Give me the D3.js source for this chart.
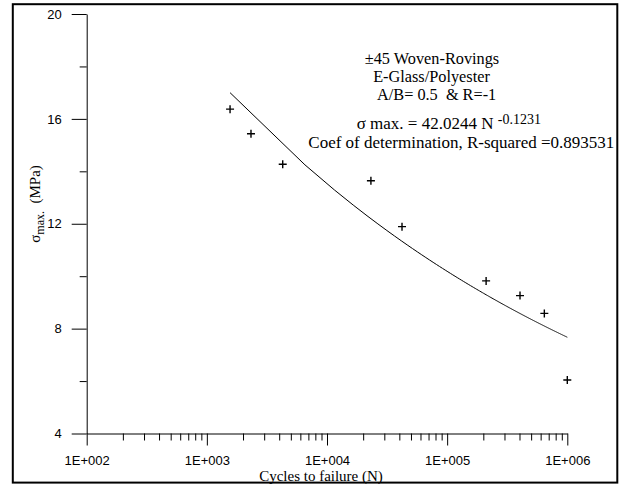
<!DOCTYPE html>
<html>
<head>
<meta charset="utf-8">
<script src="https://cdn.jsdelivr.net/npm/d3@7"></script>
<style>
  html, body { margin: 0; padding: 0; background: #fff; }
  svg { display: block; }
  .tick text { font-family: "Liberation Sans", Arial, sans-serif; font-size: 13px; fill: #000; }
  .tick line, .domain { stroke: #000; stroke-width: 1; }
  .serif { font-family: "Liberation Serif", "Times New Roman", serif; fill: #000; }
</style>
</head>
<body>
<svg id="chart" width="624" height="484"></svg>
<script>
// Fatigue data: cycles to failure and maximum stress (MPa)
const cyclesN   = [1560, 2330, 4280, 23200, 42100, 211000, 404000, 644000, 1000000];
const sigmaMax  = [16.37, 15.43, 14.27, 13.64, 11.89, 9.82, 9.26, 8.58, 6.04];

// Power-law fit  sigma = A * N^B
const fitA = 42.0244;
const fitB = -0.1231;
const rSquared = 0.893531;

// Axis ticks
const xMajorTicks = [1e2, 1e3, 1e4, 1e5, 1e6];
const xTickLabels = ["1E+002", "1E+003", "1E+004", "1E+005", "1E+006"];
const yMajorTicks = [4, 8, 12, 16, 20];
const yMinorTicks = [6, 10, 14, 18];

const svg = d3.select("#chart");

const x = d3.scaleLog().domain([1e2, 1e6]).range([86.7, 567.3]);
const y = d3.scaleLinear().domain([4, 20]).range([433.5, 14]);

// Outer frame
svg.append("rect")
  .attr("x", 12.8).attr("y", 4.2)
  .attr("width", 604.5).attr("height", 478.4)
  .attr("fill", "none").attr("stroke", "#000").attr("stroke-width", 2);

// Minor x ticks (2..9 within each decade)
const xMinorTicks = [];
for (let d = 2; d < 6; d++) for (let m = 2; m <= 9; m++) xMinorTicks.push(m * Math.pow(10, d));

const y0 = y(4);
svg.append("g")
  .attr("transform", `translate(0,${y0})`)
  .call(d3.axisBottom(x).tickValues(xMinorTicks).tickSize(7).tickFormat(""))
  .call(g => g.select(".domain").remove());

svg.append("g")
  .attr("transform", `translate(0,${y0})`)
  .call(d3.axisBottom(x).tickValues(xMajorTicks).tickSize(12).tickSizeOuter(0).tickPadding(10)
    .tickFormat((d, i) => xTickLabels[i]));

// Y axis
svg.append("g")
  .attr("transform", `translate(${x(1e2)},0)`)
  .call(d3.axisLeft(y).tickValues(yMinorTicks).tickSize(7).tickFormat(""))
  .call(g => g.select(".domain").remove());

svg.append("g")
  .attr("transform", `translate(${x(1e2)},0)`)
  .call(d3.axisLeft(y).tickValues(yMajorTicks).tickSize(15).tickSizeOuter(0).tickPadding(10));

// Fitted curve over the tested range
const nFirst = cyclesN[0], nLast = cyclesN[cyclesN.length - 1];
const steps = 200;
const fitPts = d3.range(steps + 1).map(i => {
  const n = nFirst + (nLast - nFirst) * i / steps;
  return [n, fitA * Math.pow(n, fitB)];
});
svg.append("path")
  .datum(fitPts)
  .attr("fill", "none").attr("stroke", "#000").attr("stroke-width", 1)
  .attr("d", d3.line().x(d => x(d[0])).y(d => y(d[1])));

// Data points as crosses
svg.append("g").selectAll("path.pt")
  .data(cyclesN.map((n, i) => [n, sigmaMax[i]]))
  .join("path")
  .attr("class", "pt")
  .attr("transform", d => `translate(${x(d[0])},${y(d[1])})`)
  .attr("d", "M-4,0H4M0,-4V4")
  .attr("stroke", "#000").attr("stroke-width", 1.4).attr("fill", "none");

// Axis titles
svg.append("text").attr("class", "serif")
  .attr("x", 321).attr("y", 481).attr("text-anchor", "middle")
  .attr("font-size", 15).text("Cycles to failure (N)");

const yt = svg.append("text").attr("class", "serif")
  .attr("transform", "translate(40,204) rotate(-90)")
  .attr("text-anchor", "middle").attr("font-size", 15);
yt.append("tspan").text("σ");
yt.append("tspan").attr("font-size", 12).attr("dy", 4).text("max.");
yt.append("tspan").attr("dy", -4).attr("xml:space", "preserve").text("  (MPa)");

// Annotation block
const note = svg.append("g");
note.append("text").attr("class", "serif").attr("font-size", 16.3)
  .attr("x", 432).attr("y", 63.5)
  .attr("text-anchor", "middle").text("±45 Woven-Rovings");
note.append("text").attr("class", "serif").attr("font-size", 16.3)
  .attr("x", 431.5).attr("y", 81.7)
  .attr("text-anchor", "middle").text("E-Glass/Polyester");
note.append("text").attr("class", "serif").attr("font-size", 16.3)
  .attr("x", 377).attr("y", 100)
  .attr("xml:space", "preserve").text("A/B= 0.5  & R=-1");

const eq = note.append("text").attr("class", "serif").attr("font-size", 17)
  .attr("x", 356.7).attr("y", 128.5)
  .attr("xml:space", "preserve");
eq.append("tspan").text(`σ max. = ${fitA} N `);
eq.append("tspan").attr("font-size", 14).attr("dy", -5).text(`${fitB}`);

note.append("text").attr("class", "serif").attr("font-size", 17)
  .attr("x", 308.3).attr("y", 147.5)
  .text(`Coef of determination, R-squared =${rSquared}`);
</script>
</body>
</html>
